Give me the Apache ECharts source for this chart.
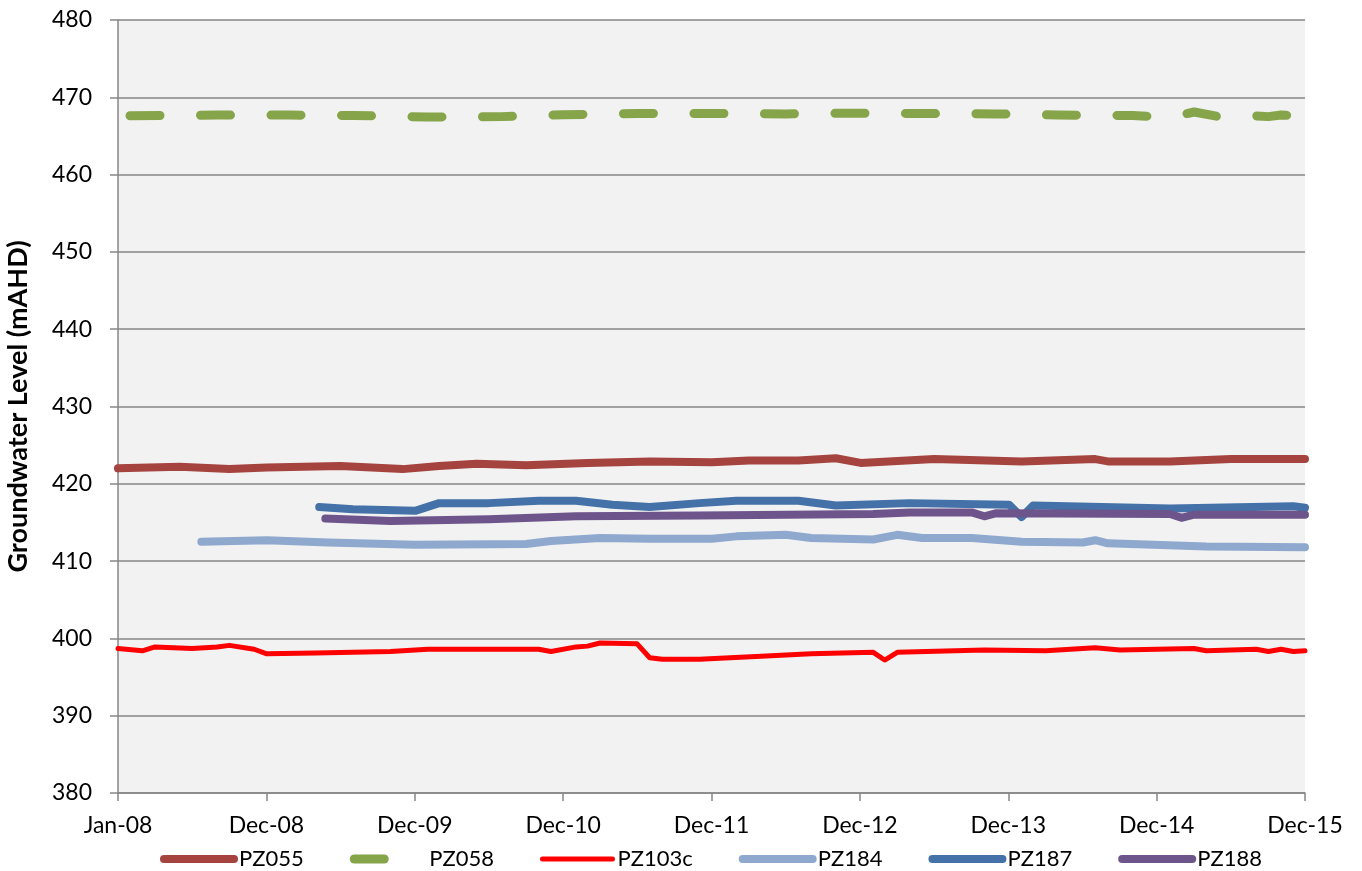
<!DOCTYPE html>
<html>
<head>
<meta charset="utf-8">
<title>Groundwater Level</title>
<script src="https://cdn.jsdelivr.net/npm/echarts@6/dist/echarts.min.js"></script>
<style>
  html, body { margin: 0; padding: 0; background: #fff; }
  #chart { width: 1362px; height: 871px; }
</style>
</head>
<body>
<div id="chart"></div>
<script>
// levels in mAHD
const seriesNames = ['PZ055', 'PZ058', 'PZ103c', 'PZ184', 'PZ187', 'PZ188'];
const yTicks = [380, 390, 400, 410, 420, 430, 440, 450, 460, 470, 480];
const monthNames = ['Jan', 'Feb', 'Mar', 'Apr', 'May', 'Jun', 'Jul', 'Aug', 'Sep', 'Oct', 'Nov', 'Dec'];

const pz055Dates = ['2008-01', '2008-06', '2008-10', '2009-01', '2009-07', '2009-12', '2010-03', '2010-06', '2010-10', '2011-03', '2011-08', '2012-01', '2012-04', '2012-08', '2012-11', '2013-01', '2013-07', '2014-02', '2014-08', '2014-09', '2015-02', '2015-07', '2015-12-30'];
const pz055Values = [422.0, 422.2, 421.9, 422.1, 422.3, 421.9, 422.3, 422.6, 422.4, 422.7, 422.9, 422.8, 423.0, 423.0, 423.3, 422.7, 423.2, 422.9, 423.2, 422.9, 422.9, 423.2, 423.2];

const pz058Dates = ['2008-01', '2008-09', '2009-03', '2009-08', '2010-02', '2010-08', '2011-01', '2011-07', '2012-02', '2012-07', '2012-12', '2013-06', '2013-12', '2014-05', '2014-11', '2015-02', '2015-04', '2015-06', '2015-08', '2015-10', '2015-11', '2015-12-30'];
const pz058Values = [467.6, 467.7, 467.7, 467.65, 467.45, 467.5, 467.75, 467.9, 467.9, 467.85, 467.95, 467.9, 467.85, 467.7, 467.65, 467.4, 468.1, 467.5, 467.7, 467.5, 467.7, 467.6];

const pz103cDates = ['2008-01', '2008-03', '2008-04', '2008-07', '2008-09', '2008-10', '2008-12', '2009-01', '2009-05', '2009-11', '2010-02', '2010-11', '2010-12', '2011-02', '2011-03', '2011-04', '2011-07', '2011-08', '2011-09', '2011-12', '2012-05', '2012-09', '2013-02', '2013-03', '2013-04', '2013-11', '2014-04', '2014-08', '2014-10', '2015-04', '2015-05', '2015-09', '2015-10', '2015-11', '2015-12', '2015-12-30'];
const pz103cValues = [398.7, 398.4, 398.9, 398.7, 398.9, 399.1, 398.6, 398.0, 398.1, 398.3, 398.6, 398.6, 398.3, 398.9, 399.0, 399.4, 399.3, 397.5, 397.3, 397.3, 397.7, 398.0, 398.2, 397.2, 398.2, 398.5, 398.4, 398.8, 398.5, 398.7, 398.4, 398.6, 398.3, 398.6, 398.3, 398.4];

const pz184Dates = ['2008-07-24', '2009-01', '2009-06', '2010-01', '2010-10', '2010-12', '2011-04', '2011-08', '2012-01', '2012-03', '2012-07', '2012-09', '2013-02', '2013-04', '2013-06', '2013-10', '2014-02', '2014-07', '2014-08', '2014-09', '2015-05', '2015-12-30'];
const pz184Values = [412.5, 412.7, 412.4, 412.1, 412.2, 412.6, 413.0, 412.9, 412.9, 413.2, 413.4, 413.0, 412.8, 413.4, 413.0, 413.0, 412.5, 412.4, 412.7, 412.3, 411.9, 411.8];

const pz187Dates = ['2009-05-10', '2009-08', '2010-01', '2010-03', '2010-07', '2010-11', '2011-02', '2011-05', '2011-08', '2011-12', '2012-03', '2012-08', '2012-11', '2013-05', '2014-01', '2014-02', '2014-03', '2015-02', '2015-12', '2015-12-30'];
const pz187Values = [417.0, 416.7, 416.5, 417.5, 417.5, 417.8, 417.8, 417.3, 417.0, 417.5, 417.8, 417.8, 417.2, 417.5, 417.3, 415.7, 417.2, 416.8, 417.1, 416.9];

const pz188Dates = ['2009-05-25', '2009-11', '2010-07', '2011-02', '2011-12', '2013-02', '2013-05', '2013-10', '2013-11', '2013-12', '2015-02', '2015-03', '2015-04', '2015-12-30'];
const pz188Values = [415.5, 415.2, 415.4, 415.8, 415.9, 416.1, 416.3, 416.3, 415.8, 416.2, 416.1, 415.6, 416.0, 416.0];

const DAY = 86400000;
const START = Date.UTC(2008, 0, 1);
const AXIS_DAYS = 8 * 365; // Jan-08 .. Dec-15, one tick every 365 days

const dayOffset = (s) => {
  const p = s.split('-').map(Number);
  return Math.round((Date.UTC(p[0], p[1] - 1, p[2] || 1) - START) / DAY);
};
const toPairs = (dates, values) => dates.map((d, i) => [dayOffset(d), values[i]]);

const FONT = 'Lato, "Open Sans", sans-serif';
const axisGrey = '#868686';

const makeLine = (name, dates, values, color, width, extra) => ({
  name: name,
  type: 'line',
  data: toPairs(dates, values),
  symbol: 'none',
  silent: true,
  lineStyle: Object.assign({ color: color, width: width, cap: 'round', join: 'round' }, extra || {}),
  itemStyle: { color: color },
});

const chart = echarts.init(document.getElementById('chart'));

const option = {
  animation: false,
  backgroundColor: '#ffffff',
  textStyle: { fontFamily: FONT },
  grid: {
    left: 118,
    right: 57,
    top: 20,
    bottom: 78,
    containLabel: false,
    outerBoundsMode: 'none',
    show: true,
    backgroundColor: '#F2F2F2',
    borderWidth: 0,
  },
  legend: {
    left: 160,
    top: 848,
    padding: 0,
    itemWidth: 70,
    itemHeight: 18,
    itemGap: 46,
    textStyle: { fontFamily: FONT, fontSize: 22, color: '#000' },
    // no marker dot on the legend lines
    itemStyle: { color: 'transparent', borderWidth: 0, opacity: 0 },
    lineStyle: { width: 'inherit', opacity: 1 },
    data: [
      { name: 'PZ055' },
      { name: 'PZ058', lineStyle: { dashOffset: 0 } },
      { name: 'PZ103c' },
      { name: 'PZ184' },
      { name: 'PZ187' },
      { name: 'PZ188' },
    ],
  },
  xAxis: {
    type: 'value',
    min: 0,
    max: AXIS_DAYS,
    interval: 365,
    axisLine: { show: true, lineStyle: { color: axisGrey, width: 1.5 } },
    axisTick: { show: true, length: 8, lineStyle: { color: axisGrey, width: 1.5 } },
    splitLine: { show: false },
    axisLabel: {
      color: '#000',
      fontSize: 23,
      fontFamily: FONT,
      margin: 21,
      formatter: (v) => {
        const d = new Date(START + v * DAY);
        return monthNames[d.getUTCMonth()] + '-' + String(d.getUTCFullYear()).slice(2);
      },
    },
  },
  yAxis: {
    type: 'value',
    min: yTicks[0],
    max: yTicks[yTicks.length - 1],
    interval: 10,
    name: 'Groundwater Level (mAHD)',
    nameLocation: 'middle',
    nameGap: 86,
    nameTextStyle: { fontFamily: FONT, fontSize: 27, fontWeight: 'bold', color: '#000' },
    axisLine: { show: true, lineStyle: { color: axisGrey, width: 1.5 } },
    axisTick: { show: true, length: 8, lineStyle: { color: axisGrey, width: 1.5 } },
    splitLine: { show: true, lineStyle: { color: axisGrey, width: 1.5 } },
    axisLabel: { color: '#000', fontSize: 23, fontFamily: FONT, margin: 26 },
  },
  series: [
    makeLine(seriesNames[0], pz055Dates, pz055Values, '#A5433F', 8),
    makeLine(seriesNames[1], pz058Dates, pz058Values, '#86A44A', 9, { type: [30, 40.5], dashOffset: 58.5 }),
    makeLine(seriesNames[2], pz103cDates, pz103cValues, '#FF0000', 5),
    makeLine(seriesNames[3], pz184Dates, pz184Values, '#8EA8CE', 8),
    makeLine(seriesNames[4], pz187Dates, pz187Values, '#4371A8', 8),
    makeLine(seriesNames[5], pz188Dates, pz188Values, '#6D558C', 8),
  ],
};

chart.setOption(option);
</script>
</body>
</html>
